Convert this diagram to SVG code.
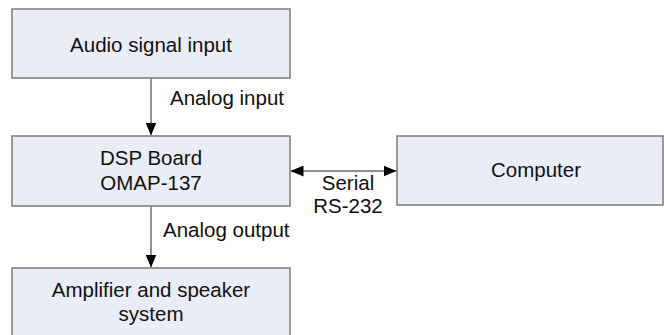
<svg xmlns="http://www.w3.org/2000/svg" width="664" height="335" viewBox="0 0 664 335">
<style>
.box{fill:#e9edf7;stroke:#7a7a7a;stroke-width:1.5}
.t{font-family:"Liberation Sans",Arial,sans-serif;font-size:20.5px;fill:#111;text-anchor:middle}
.l{font-family:"Liberation Sans",Arial,sans-serif;font-size:20.5px;fill:#111}
.c{stroke:#6e6e6e;stroke-width:1.5;fill:none}
</style>
<defs>
<marker id="ah" viewBox="0 0 13 11" refX="13" refY="5.5" markerWidth="13" markerHeight="11" markerUnits="userSpaceOnUse" orient="auto-start-reverse">
<path d="M0,0 L13,5.5 L0,11 Z" fill="#000"/>
</marker>
</defs>
<rect width="664" height="335" fill="#fff"/>
<g id="connectors">
<line class="c" x1="151" y1="78" x2="151" y2="135.5" marker-end="url(#ah)"/>
<line class="c" x1="151" y1="206" x2="151" y2="267.5" marker-end="url(#ah)"/>
<line class="c" x1="290.5" y1="171" x2="396.5" y2="171" marker-start="url(#ah)" marker-end="url(#ah)"/>
<text class="l" x="170" y="105">Analog input</text>
<text class="l" x="163" y="237">Analog output</text>
<text class="t" x="348" y="190">Serial</text>
<text class="t" x="348" y="213">RS-232</text>
</g>
<g id="audio">
<rect class="box" x="12" y="9" width="278" height="69"/>
<text class="t" x="151" y="52">Audio signal input</text>
</g>
<g id="dsp">
<rect class="box" x="12" y="136" width="278" height="70"/>
<text class="t" x="151" y="165">DSP Board</text>
<text class="t" x="151" y="190">OMAP-137</text>
</g>
<g id="computer">
<rect class="box" x="397" y="136" width="266" height="69"/>
<text class="t" x="536" y="177">Computer</text>
</g>
<g id="amp">
<rect class="box" x="12" y="268" width="278" height="80"/>
<text class="t" x="151" y="297">Amplifier and speaker</text>
<text class="t" x="151" y="321">system</text>
</g>
</svg>
